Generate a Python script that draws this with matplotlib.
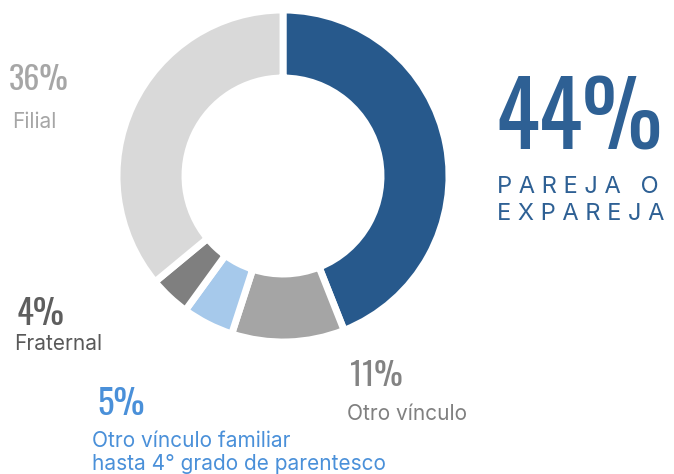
import matplotlib
matplotlib.use('Agg')
import matplotlib.pyplot as plt
from matplotlib import font_manager

W, H = 674, 474

# data
labels = ['Pareja o expareja', 'Otro vínculo', 'Otro vínculo familiar', 'Fraternal', 'Filial']
values = [44, 11, 5, 4, 36]
colors = ['#27598c', '#a5a5a5', '#a6c9eb', '#7f7f7f', '#d9d9d9']

available = {f.name for f in font_manager.fontManager.ttflist}
num_font = next((f for f in ['Oswald', 'Roboto Condensed', 'Barlow Condensed', 'Archivo Narrow']
                 if f in available), 'DejaVu Sans')
txt_font = 'Inter'

fig = plt.figure(figsize=(W / 100, H / 100), dpi=100)
ax = fig.add_axes([0, 0, 1, 1])

ax.pie(values, colors=colors, startangle=90, counterclock=False,
       center=(283, H - 176), radius=166,
       wedgeprops=dict(width=68, edgecolor='white', linewidth=5))
# pie resets the limits, so set them afterwards
ax.set_xlim(0, W)
ax.set_ylim(0, H)
ax.set_aspect('equal')
ax.axis('off')


def put(x, y, s, size, color, font, weight='normal'):
    fig.text(x / W, 1 - y / H, s, fontsize=size, color=color,
             family=[font, 'DejaVu Sans'], fontweight=weight, va='baseline', ha='left')


# big label
put(495, 150, f'{values[0]}%', 65, '#2e6094', num_font, 'bold')
put(497, 193, 'P A R E J A   O', 17, '#2e6094', txt_font)
put(497, 220, 'E X P A R E J A', 17, '#2e6094', txt_font)

# small labels
put(9, 90, f'{values[4]}%', 23, '#a6a6a6', num_font, 'bold')
put(12, 128, labels[4], 15, '#a6a6a6', txt_font)

put(17, 325, f'{values[3]}%', 25, '#5e5e5e', num_font, 'bold')
put(14, 350, labels[3], 15, '#595959', txt_font)

put(97, 415, f'{values[2]}%', 25, '#4a90d9', num_font, 'bold')
put(92, 447, 'Otro vínculo familiar', 15, '#4a90d9', txt_font)
put(92, 470, 'hasta 4° grado de parentesco', 15, '#4a90d9', txt_font)

put(350, 386, f'{values[1]}%', 23, '#838383', num_font, 'bold')
put(347, 420, labels[1], 15, '#808080', txt_font)

fig.savefig('out.png', dpi=100)
